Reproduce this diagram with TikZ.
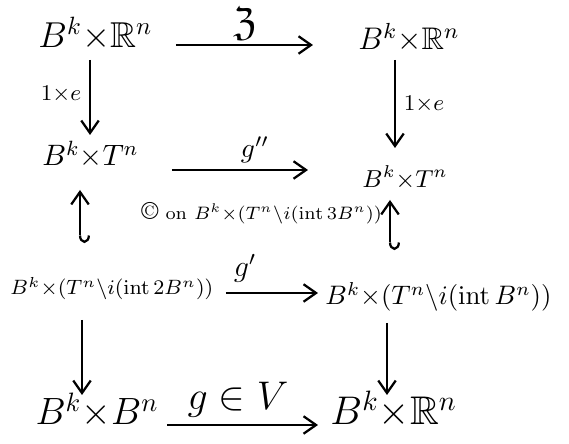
\RequirePackage{fix-cm}
\documentclass[tikz,border=0pt]{standalone}
\usepackage{amsmath,amssymb}
\usetikzlibrary{arrows.meta}

\tikzset{
  obj/.style={inner sep=0pt, anchor=base west},
  lbl/.style={inner sep=0pt},
  arr/.style={line width=0.9pt, -{Straight Barb[length=5pt,width=7pt,line width=0.9pt]}},
  hookarr/.style={arr, {Hooks[left,length=3pt,width=8pt,line width=0.9pt]}-{Straight Barb[length=5pt,width=7pt,line width=0.9pt]}},
}
\newcommand{\fs}[1]{\fontsize{#1}{#1}\selectfont}
\newcommand{\x}{{\times}}
\newcommand{\sm}{{\setminus}}

\begin{document}
\begin{tikzpicture}[x=0.4pt, y=-0.4pt]
    \useasboundingbox (0,0) rectangle (569,444);

    % objects
    \node[obj, font=\fs{14.4}] (a1) at (38,48)  {$B^k\x\mathbb{R}^n$};
    \node[obj, font=\fs{12.5}] (b1) at (358,50) {$B^k\x\mathbb{R}^n$};
    \node[obj, font=\fs{11.8}] (a2) at (42,166) {$B^k\x T^n$};
    \node[obj, font=\fs{9.8}]  (b2) at (362,188) {$B^k\x T^n$};
    \node[obj, font=\fs{8.3}]  (a3) at (10,295) {$B^k\x(T^n\sm i(\mathrm{int}\,2B^n))$};
    \node[obj, font=\fs{10.7}] (b3) at (325,305) {$B^k\x(T^n\sm i(\mathrm{int}\,B^n))$};
    \node[obj, font=\fs{15.2}] (a4) at (35,425) {$B^k\x B^n$};
    \node[obj, font=\fs{16}]   (b4) at (330,425) {$B^k\x\mathbb{R}^n$};

    % note
    \node[obj, font=\fs{7.2}] (cm) at (141,220) {{\fontsize{10}{10}\selectfont\copyright} on $B^k\x(T^n\sm i(\mathrm{int}\,3B^n))$};

    % labels
    \node[lbl, font=\fs{16}] (lz) at (245,24) {$\mathfrak{Z}$};
    \node[lbl, font=\fs{9}]  (le1) at (61,94) {$1\x e$};
    \node[lbl, font=\fs{9}]  (le2) at (424,104) {$1\x e$};
    \node[lbl, font=\fs{11}] (lg2) at (255,150) {$g''$};
    \node[lbl, font=\fs{12}] (lg1) at (245,268) {$g'$};
    \node[lbl, font=\fs{16}] (lg) at (238,400) {$g\in V$};

    % horizontal maps
    \draw[arr] ([shift={(23,-3)}]a1.base east) -- ([shift={(-45,-5)}]b1.base west);
    \draw[arr] ([shift={(33,4)}]a2.base east) -- ([shift={(-54,-18)}]b2.base west);
    \draw[arr] ([shift={(12,-2)}]a3.base east) -- ([shift={(-7,-12)}]b3.base west);
    \draw[arr] ([shift={(8,0)}]a4.base east) -- ([shift={(-12,0)}]b4.base west);

    % vertical maps
    \draw[arr] ([shift={(52,12)}]a1.base west) -- ([shift={(48,-31)}]a2.base west);
    \draw[arr] ([shift={(37,10)}]b1.base west) -- ([shift={(33,-40)}]b2.base west);
    \draw[hookarr] ([shift={(70,-52)}]a3.base west) -- ([shift={(38,24)}]a2.base west);
    \draw[hookarr] ([shift={(65,-55)}]b3.base west) -- ([shift={(28,12)}]b2.base west);
    \draw[arr] ([shift={(72,25)}]a3.base west) -- ([shift={(47,-30)}]a4.base west);
    \draw[arr] ([shift={(62,18)}]b3.base west) -- ([shift={(57,-30)}]b4.base west);
\end{tikzpicture}
\end{document}
